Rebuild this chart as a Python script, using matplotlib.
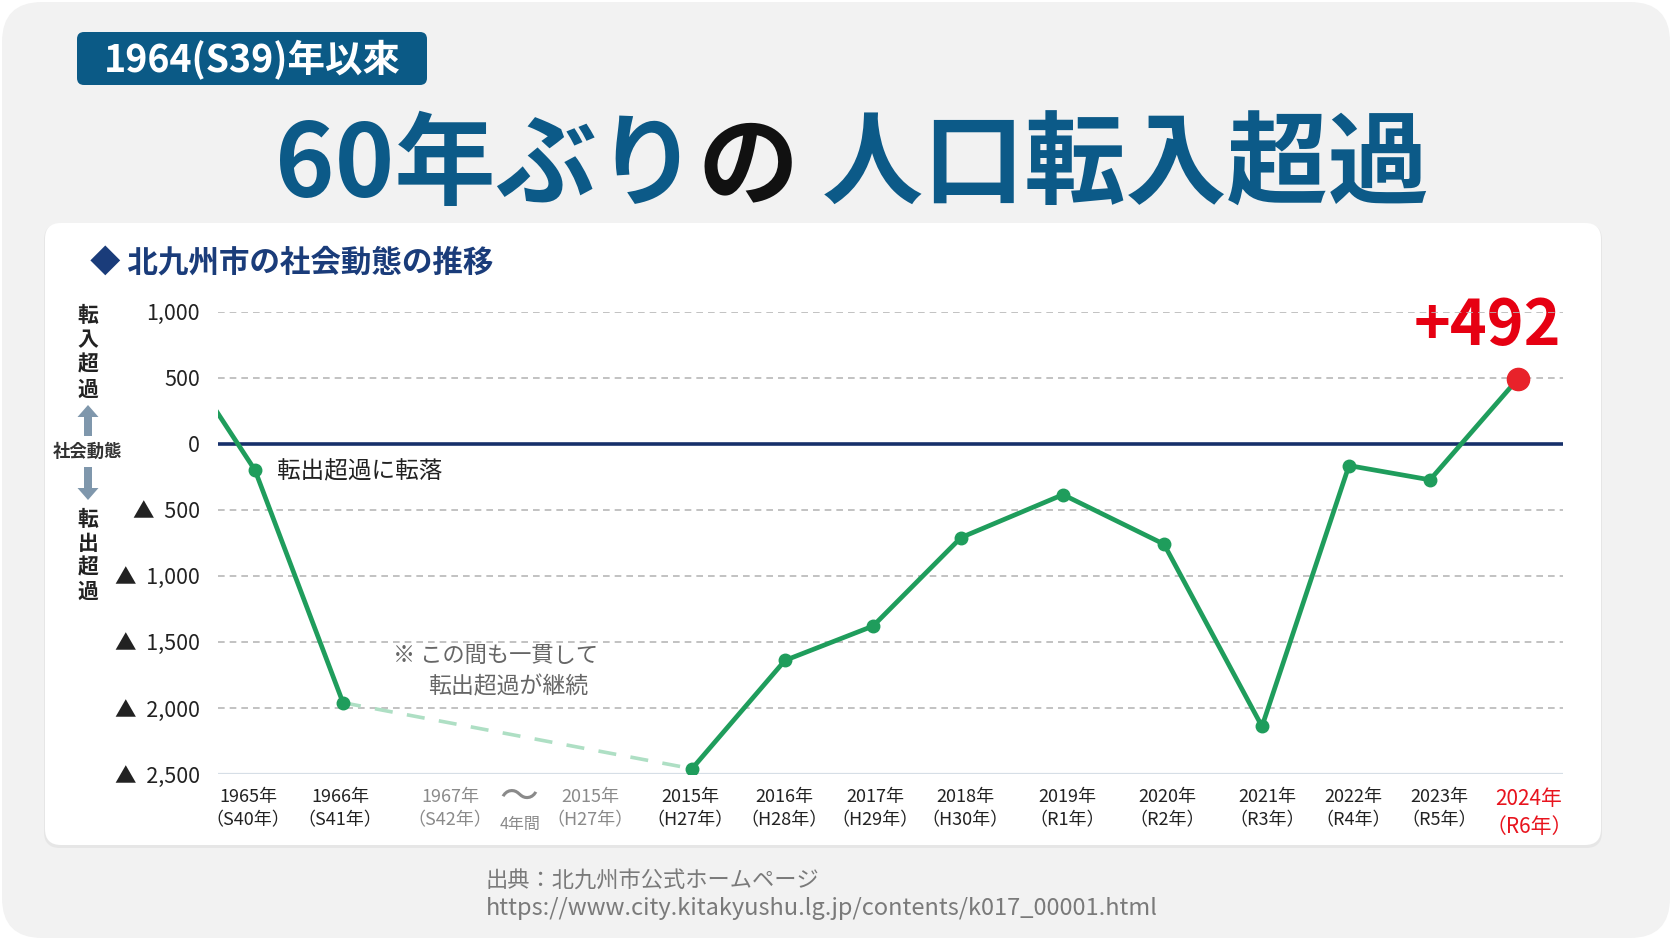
import matplotlib
matplotlib.use("Agg")
import matplotlib.pyplot as plt
from matplotlib.patches import FancyBboxPatch, FancyArrow

plt.rcParams['font.family'] = ['Noto Sans CJK JP', 'DejaVu Sans']

# ---------------- data ----------------
years = ['1965', '1966', '2015', '2016', '2017', '2018', '2019', '2020',
         '2021', '2022', '2023', '2024']
era_labels = ['S40年', 'S41年', 'H27年', 'H28年', 'H29年', 'H30年', 'R1年',
              'R2年', 'R3年', 'R4年', 'R5年', 'R6年']
net_migration = [-200, -1960, -2460, -1640, -1380, -710, -385, -760,
                 -2140, -165, -273, 492]
value_1964 = 820          # off-chart start of the line (clipped)
gap_labels = ['1967年\n（S42年）', '2015年\n（H27年）']
y_ticks = [1000, 500, 0, -500, -1000, -1500, -2000, -2500]
y_tick_labels = ['1,000', '500', '0', '▲  500', '▲  1,000', '▲  1,500',
                 '▲  2,000', '▲  2,500']

# ---------------- layout (pixel positions along the x axis) ----------------
x_pos = [255, 343, 692, 785, 873, 961, 1063, 1164, 1262, 1349, 1430, 1518]
x_pos_1964 = 167
label_x = [248, 340, 690, 784, 875, 965, 1067, 1167, 1267, 1353, 1439, 1529]
gap_label_x = [450, 590]

W, H = 1672, 940
fig = plt.figure(figsize=(W / 100, H / 100), dpi=100)
fig.patch.set_facecolor('white')

ov = fig.add_axes([0, 0, 1, 1], zorder=0)
ov.set_xlim(0, W)
ov.set_ylim(H, 0)
ov.axis('off')

# outer background
ov.add_patch(FancyBboxPatch((2, 2), W - 4, H - 4,
                            boxstyle='round,pad=0,rounding_size=40',
                            fc='#f2f2f2', ec='none'))
# panel shadow + panel
ov.add_patch(FancyBboxPatch((44, 224), 1558, 624,
                            boxstyle='round,pad=0,rounding_size=16',
                            fc='#e6e6e6', ec='none'))
ov.add_patch(FancyBboxPatch((45, 223), 1556, 622,
                            boxstyle='round,pad=0,rounding_size=16',
                            fc='white', ec='none'))

# badge
ov.add_patch(FancyBboxPatch((77, 32), 350, 53,
                            boxstyle='round,pad=0,rounding_size=7',
                            fc='#0b5a86', ec='none'))
ov.text(252, 60, '1964(S39)年以來', color='white', fontsize=27,
        fontweight='bold', ha='center', va='center')

# big title, composed from pieces
fig.canvas.draw()
renderer = fig.canvas.get_renderer()
title_parts = [('60年ぶり', '#0c5a88'), ('の', '#111111'), (' 人口転入超過', '#0c5a88')]
fs = 80
tx = []
for s, c in title_parts:
    t = ov.text(0, 197, s, color=c, fontsize=fs, fontweight='bold',
                ha='left', va='baseline')
    tx.append(t)
widths = [t.get_window_extent(renderer).width for t in tx]
scale = (1429 - 275) / sum(widths)
x = 275
for t in tx:
    t.set_fontsize(fs * scale)
widths = [t.get_window_extent(renderer).width for t in tx]
for t, w in zip(tx, widths):
    t.set_x(x)
    x += w

# subtitle
ov.text(90, 263, '◆ 北九州市の社会動態の推移', color='#1a3c7a', fontsize=22,
        fontweight='bold', ha='left', va='center')

# vertical axis caption
for ch, yc in zip('転入超過', [315, 340, 364, 389]):
    ov.text(88, yc, ch, fontsize=15, fontweight='bold', color='#222222',
            ha='center', va='center')
for ch, yc in zip('転出超過', [519, 543, 567, 591]):
    ov.text(88, yc, ch, fontsize=15, fontweight='bold', color='#222222',
            ha='center', va='center')
ov.text(88, 452, '社会動態', fontsize=12.5, fontweight='bold', color='#333333',
        ha='center', va='center')
arrow_c = '#7f97ac'
ov.add_patch(FancyArrow(88, 436, 0, -31, width=8, head_width=21, head_length=12,
                        length_includes_head=True, fc=arrow_c, ec='none'))
ov.add_patch(FancyArrow(88, 467, 0, 33, width=8, head_width=21, head_length=12,
                        length_includes_head=True, fc=arrow_c, ec='none'))

# source
ov.text(486, 881, '出典：北九州市公式ホームページ', fontsize=16, color='#7a7a7a',
        ha='left', va='center')
ov.text(486, 909, 'https://www.city.kitakyushu.lg.jp/contents/k017_00001.html',
        fontsize=17, color='#7a7a7a', ha='left', va='center')

# ---------------- chart axes ----------------
left, right = 218, 1563
top_px, bot_px = 311.7, 774
ax = fig.add_axes([left / W, (H - bot_px) / H, (right - left) / W,
                   (bot_px - top_px) / H], zorder=2)
ax.set_facecolor('none')
ax.set_xlim(left, right)
ax.set_ylim(-2500, 1000)
for s in ax.spines.values():
    s.set_visible(False)

for yv in y_ticks:
    if yv == 0:
        ax.axhline(0, color='#16306a', lw=2.6, zorder=2)
    elif yv == -2500:
        ax.axhline(yv, color='#d6dee6', lw=1.6, zorder=1)
    else:
        ax.axhline(yv, color='#b8b8b8', lw=1.2, ls=(0, (4, 3)), zorder=1)

ax.set_yticks(y_ticks)
ax.set_yticklabels(y_tick_labels, fontsize=15.5, color='#222222')
ax.tick_params(axis='y', length=0, pad=13)

green = '#1f9d5c'
# 1964 -> 1965 -> 1966 (solid)
ax.plot([x_pos_1964] + x_pos[:2], [value_1964] + net_migration[:2],
        color=green, lw=3.4, zorder=4, solid_capstyle='butt')
# 1966 -> 2015 gap (dashed light)
ax.plot(x_pos[1:3], net_migration[1:3], color='#aedfc4', lw=2.6,
        ls=(0, (5, 4)), zorder=3)
# 2015 -> 2024 (solid)
ax.plot(x_pos[2:], net_migration[2:], color=green, lw=3.4, zorder=4)
ax.plot(x_pos[:-1], net_migration[:-1], ls='none', marker='o', ms=9,
        color=green, zorder=5)
ax.plot(x_pos[-1:], net_migration[-1:], ls='none', marker='o', ms=16,
        color='#e8222a', zorder=6, clip_on=False)

# x tick labels
tick_x = label_x[:2] + gap_label_x + label_x[2:]
tick_txt = ([f'{y}年\n（{e}）' for y, e in zip(years[:2], era_labels[:2])] +
            gap_labels +
            [f'{y}年\n（{e}）' for y, e in zip(years[2:], era_labels[2:])])
ax.set_xticks(tick_x)
ax.set_xticklabels(tick_txt, fontsize=13, color='#222222', linespacing=1.35)
ax.tick_params(axis='x', length=0, pad=10)
tls = ax.get_xticklabels()
for i in (2, 3):
    tls[i].set_color('#8a8a8a')
tls[-1].set_color('#e8141e')
tls[-1].set_fontsize(15)

# gap marker
ov.text(519, 798, '〜', fontsize=28, color='#8a8a8a', ha='center', va='center',
        zorder=3)
ov.text(520, 824, '4年間', fontsize=11.5, color='#8a8a8a', ha='center',
        va='center', zorder=3)

# annotations
ov.text(277, 472, '転出超過に転落', fontsize=17, color='#222222',
        ha='left', va='center', zorder=3)
ov.text(393, 655, '※ この間も一貫して', fontsize=16, color='#666666',
        ha='left', va='center', zorder=3)
ov.text(428, 687, '転出超過が継続', fontsize=16.5, color='#666666',
        ha='left', va='center', zorder=3)
ov.text(1561, 326, f'+{net_migration[-1]}', fontsize=45, fontweight='bold',
        color='#e60012', ha='right', va='center', zorder=3)

fig.savefig('out.png', dpi=100, facecolor='white')
